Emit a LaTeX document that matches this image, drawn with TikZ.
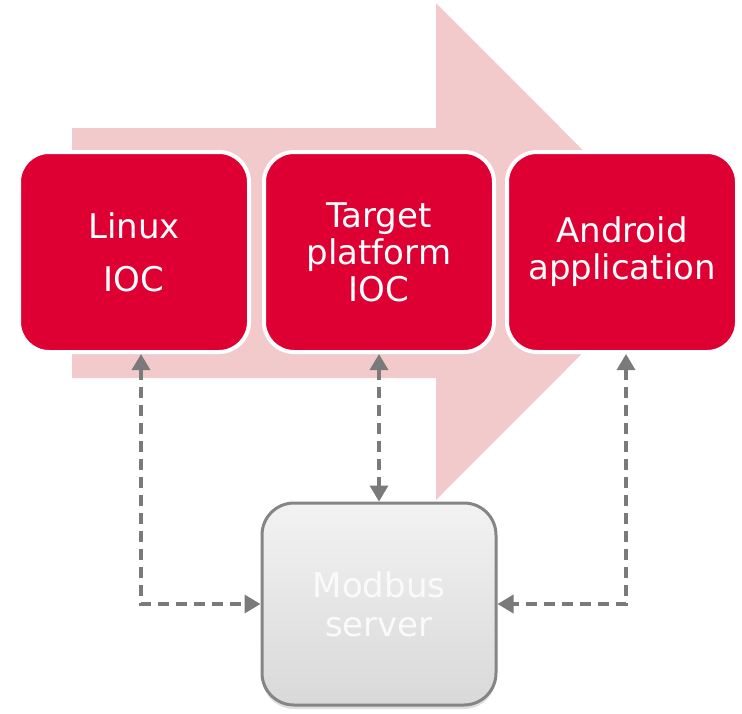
\documentclass[tikz,border=0pt]{standalone}
\usepackage{fontspec}
\setmainfont{DejaVu Sans}
\usetikzlibrary{arrows.meta,shadows}
\definecolor{boxred}{HTML}{DF0033}
\definecolor{flowpink}{HTML}{F2CACC}
\definecolor{conngray}{HTML}{7A7A7A}
\definecolor{edgegray}{HTML}{858585}
\begin{document}
\begin{tikzpicture}[x=1pt,y=-1pt,
  redbox/.style={rectangle,rounded corners=30pt,fill=boxred,draw=white,line width=4pt,
    minimum width=230pt,minimum height=200pt,text=white,align=center,
    font=\fontsize{34}{37}\selectfont},
  serverbox/.style={rectangle,rounded corners=32pt,draw=edgegray,line width=3pt,
    top color=gray!10,bottom color=gray!30,minimum width=234pt,minimum height=202pt,
    text=white!96!gray,align=center,font=\fontsize{34}{39}\selectfont,
    drop shadow={shadow xshift=0pt,shadow yshift=-4pt,opacity=0.25}},
  conn/.style={draw=conngray,line width=3.4pt,dash pattern=on 11pt off 7pt,
    {Triangle[width=18pt,length=16pt]}-{Triangle[width=18pt,length=16pt]}}]
\useasboundingbox (0,0) rectangle (742,713);
\fill[flowpink] (72,128) -- (436,128) -- (436,3) -- (684,251.5) -- (436,500) -- (436,378) -- (72,378) -- cycle;
\node[redbox] (linux) at (134,252) {Linux\\[16pt]IOC};
\node[redbox] (target) at (379,252) {Target\\platform\\IOC};
\node[redbox] (android) at (622,252) {Android\\application};
\node[serverbox] (modbus) at (379,604) {Modbus\\server};
\draw[conn] ([xshift=7pt]linux.south) |- (modbus.west);
\draw[conn] (target.south) -- (modbus.north);
\draw[conn] ([xshift=4pt]android.south) |- (modbus.east);
\end{tikzpicture}
\end{document}
